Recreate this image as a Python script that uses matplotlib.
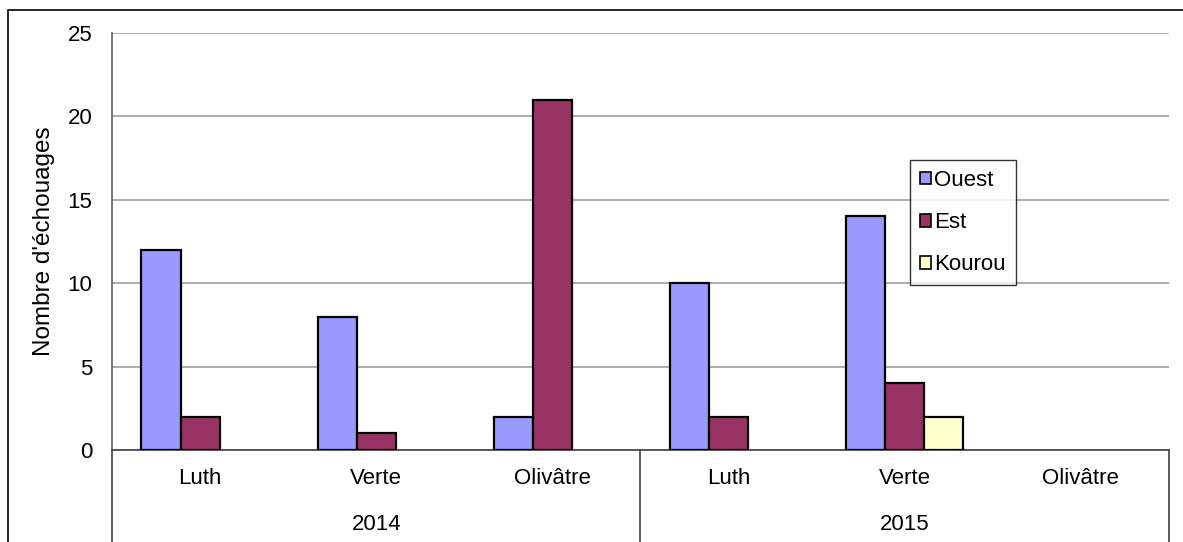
import matplotlib
matplotlib.use("Agg")
import matplotlib.pyplot as plt
import matplotlib.patches as mpatches
from matplotlib.lines import Line2D
import numpy as np

plt.rcParams['font.family'] = ['Liberation Sans', 'DejaVu Sans']

# data
years = ['2014', '2015']
especes = ['Luth', 'Verte', 'Olivâtre']
ouest = [12, 8, 2, 10, 14, 0]
est = [2, 1, 21, 2, 4, 0]
kourou = [0, 0, 0, 0, 2, 0]
series_names = ['Ouest', 'Est', 'Kourou']
series_colors = ['#9999FF', '#993366', '#FFFFCC']

W, H = 1183, 542
fig = plt.figure(figsize=(W / 100, H / 100), dpi=100)
fig.patch.set_facecolor('white')

# plot area in pixels
x0, x1, ytop, ybot = 112, 1169, 33, 450
ax = fig.add_axes([x0 / W, (H - ybot) / H, (x1 - x0) / W, (ybot - ytop) / H])

# outer chart frame
fig.add_artist(mpatches.Rectangle((8 / W, -0.1), 1.2, (H - 10) / H + 0.1,
                                  transform=fig.transFigure, fill=False,
                                  edgecolor='black', lw=1.2))

n = len(ouest)
x = np.arange(n)
bw = 1 / 4.5
for i, (vals, col) in enumerate(zip([ouest, est, kourou], series_colors)):
    vals = np.array(vals)
    lws = np.where(vals > 0, 1.6, 0)
    ax.bar(x + (i - 1) * bw, vals, width=bw, color=col, edgecolor='black',
           linewidth=lws, zorder=3)

ax.set_xlim(-0.5, n - 0.5)
ax.set_ylim(0, 25)
ax.set_yticks([0, 5, 10, 15, 20, 25])
ax.yaxis.grid(True, color='#a0a0a0', lw=1.2, zorder=0)
ax.tick_params(axis='y', length=0, labelsize=16, pad=14)
ax.set_ylabel("Nombre d'échouages", fontsize=17.5, labelpad=9)

ax.set_xticks(x)
ax.set_xticklabels(especes * len(years), fontsize=16)
ax.tick_params(axis='x', length=0, pad=13)

for s in ['top', 'right']:
    ax.spines[s].set_visible(False)
ax.spines['left'].set_color('#606060')
ax.spines['bottom'].set_color('#404040')
ax.spines['left'].set_linewidth(1.2)
ax.spines['bottom'].set_linewidth(1.2)

# category table lines below axis
for xp in [x0, 640, x1]:
    fig.add_artist(Line2D([xp / W, xp / W], [0, (H - ybot) / H],
                          transform=fig.transFigure, color='#404040', lw=1.2))

for k, yr in enumerate(years):
    xc = (x0 + (x1 - x0) * (k * 3 + 1.5) / n) / W
    fig.text(xc, (H - 524) / H, yr, ha='center', va='center', fontsize=16)

handles = [mpatches.Patch(facecolor=c, edgecolor='black', lw=1.2) for c in series_colors]
leg = ax.legend(handles, series_names, loc='upper left',
                bbox_to_anchor=((910 - x0) / (x1 - x0), (ybot - 160) / (ybot - ytop)),
                fontsize=16, frameon=True, fancybox=False, edgecolor='black',
                handlelength=0.5, handleheight=0.5, handletextpad=0.15,
                labelspacing=0.95, borderpad=0.45, borderaxespad=0)
leg.get_frame().set_linewidth(1.0)

fig.savefig('out.png', dpi=100)
